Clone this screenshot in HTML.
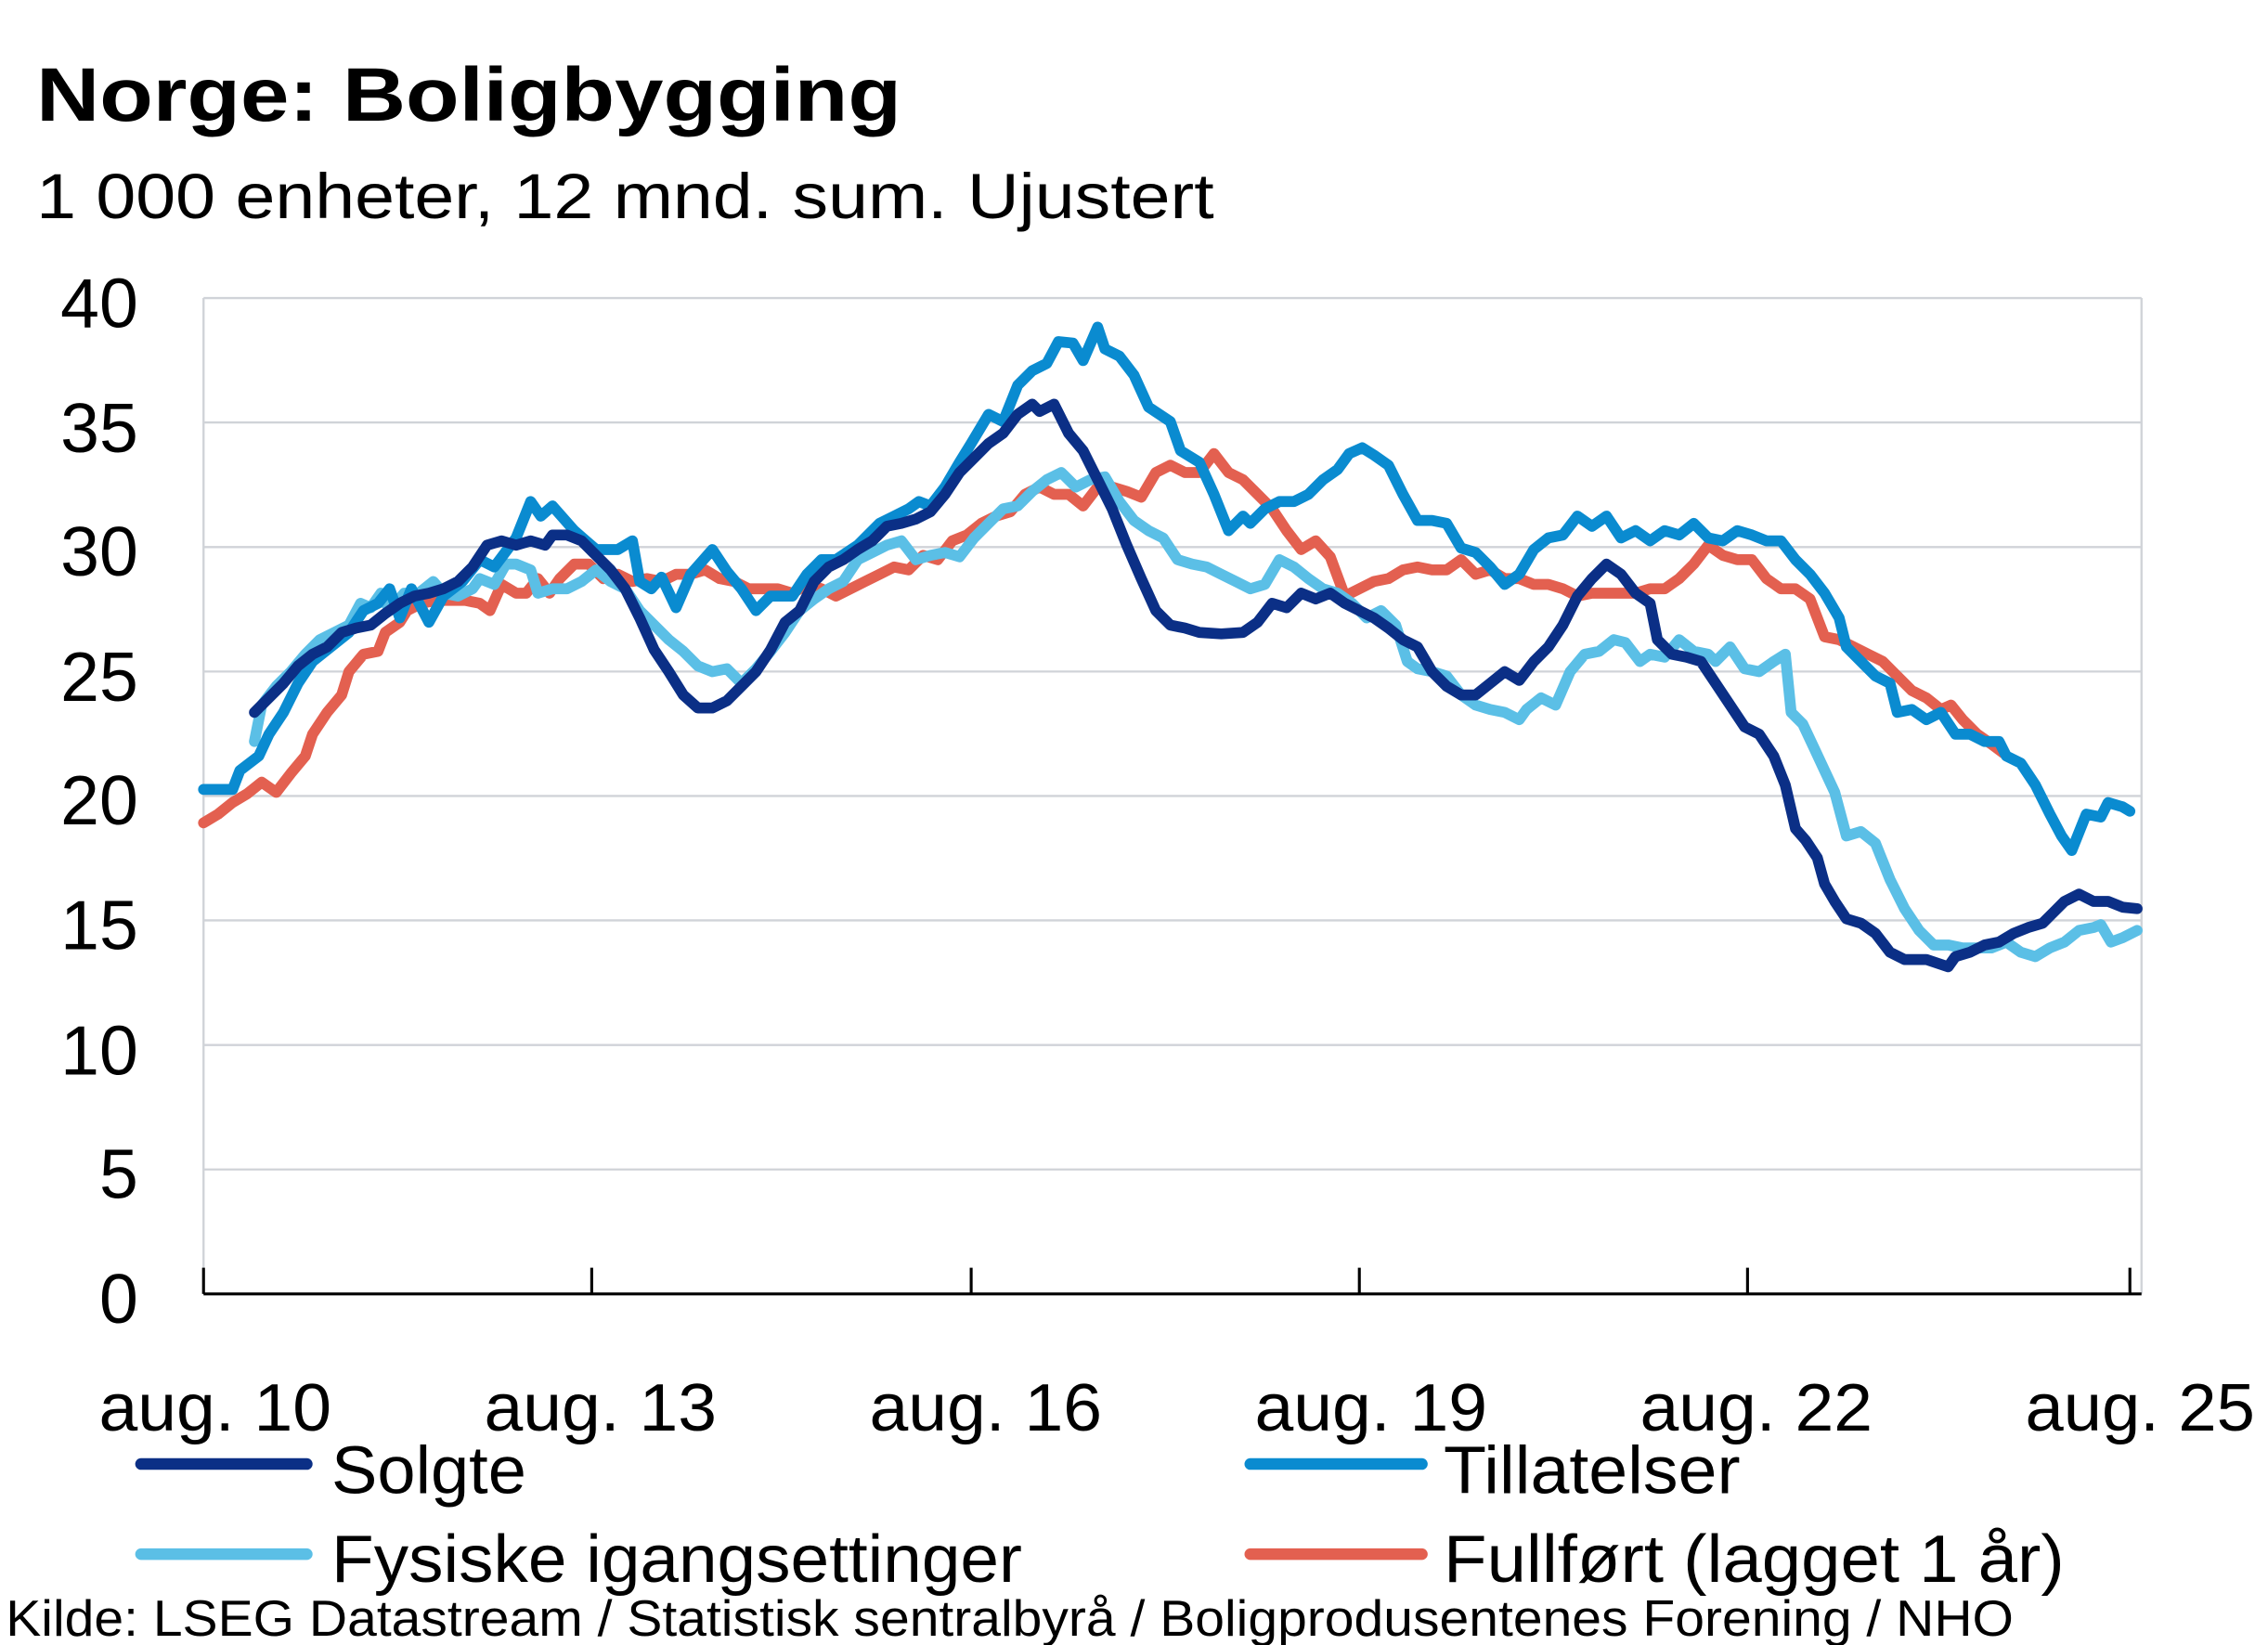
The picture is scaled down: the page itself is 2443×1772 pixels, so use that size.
<!DOCTYPE html>
<html><head><meta charset="utf-8"><style>html,body{margin:0;padding:0;background:#fff}svg{display:block}</style></head>
<body>
<svg width="2443" height="1772" viewBox="0 0 1560 1131.5" preserveAspectRatio="none" xmlns="http://www.w3.org/2000/svg" font-family="Liberation Sans, sans-serif">
<rect width="1560" height="1131.5" fill="#fff"/>
<text x="25" y="83" font-size="52" font-weight="bold" textLength="595" lengthAdjust="spacingAndGlyphs">Norge:  Boligbygging</text>
<text x="25" y="150" font-size="44" textLength="810" lengthAdjust="spacingAndGlyphs">1 000 enheter, 12 mnd. sum. Ujustert</text>
<g stroke="#d0d3d8" stroke-width="1.5">
<line x1="140" y1="205" x2="1473" y2="205"/><line x1="140" y1="290.6" x2="1473" y2="290.6"/><line x1="140" y1="376.3" x2="1473" y2="376.3"/><line x1="140" y1="461.9" x2="1473" y2="461.9"/><line x1="140" y1="547.5" x2="1473" y2="547.5"/><line x1="140" y1="633.1" x2="1473" y2="633.1"/><line x1="140" y1="718.8" x2="1473" y2="718.8"/><line x1="140" y1="804.4" x2="1473" y2="804.4"/>
<line x1="140" y1="205" x2="140" y2="890"/><line x1="1473" y1="205" x2="1473" y2="890"/>
</g>
<g stroke="#000" stroke-width="2"><line x1="140" y1="890" x2="1473" y2="890"/>
<line x1="140" y1="872" x2="140" y2="890"/><line x1="407" y1="872" x2="407" y2="890"/><line x1="668" y1="872" x2="668" y2="890"/><line x1="935" y1="872" x2="935" y2="890"/><line x1="1202" y1="872" x2="1202" y2="890"/><line x1="1465" y1="872" x2="1465" y2="890"/></g>
<g font-size="48" text-anchor="end">
<text x="95" y="225">40</text><text x="95" y="311">35</text><text x="95" y="396">30</text><text x="95" y="482">25</text><text x="95" y="567">20</text><text x="95" y="653">15</text><text x="95" y="739">10</text><text x="95" y="824">5</text><text x="95" y="910">0</text></g>
<g font-size="46">
<text x="68" y="984" textLength="160" lengthAdjust="spacingAndGlyphs">aug. 10</text>
<text x="333" y="984" textLength="160" lengthAdjust="spacingAndGlyphs">aug. 13</text>
<text x="598" y="984" textLength="160" lengthAdjust="spacingAndGlyphs">aug. 16</text>
<text x="863" y="984" textLength="160" lengthAdjust="spacingAndGlyphs">aug. 19</text>
<text x="1128" y="984" textLength="160" lengthAdjust="spacingAndGlyphs">aug. 22</text>
<text x="1393" y="984" textLength="158" lengthAdjust="spacingAndGlyphs">aug. 25</text>
</g>
<g fill="none" stroke-width="7.5" stroke-linejoin="round" stroke-linecap="round">
<polyline stroke="#e36050" points="140,566 150,560 160,552 170,546 180,538 190,545 200,532 210,520 215,505 225,490 235,478 240,462 250,450 260,448 265,435 275,428 280,420 290,415 300,413 310,413 320,413 330,415 337,420 345,402 355,408 362,408 370,398 378,408 385,398 395,388 405,388 415,398 425,395 435,400 445,398 455,400 465,395 475,395 485,392 495,398 505,400 515,405 525,405 535,405 545,408 555,402 565,405 575,410 585,405 595,400 605,395 615,390 625,392 635,382 645,385 655,372 665,368 675,360 685,355 695,352 705,340 715,335 725,340 735,340 745,348 755,335 765,335 775,338 785,342 795,325 805,320 815,325 825,325 835,312 845,325 855,330 865,340 875,350 885,365 895,378 905,372 915,383 925,410 935,405 945,400 955,398 965,392 975,390 985,392 995,392 1005,385 1015,395 1025,392 1035,398 1045,398 1055,402 1065,402 1075,405 1085,410 1095,408 1105,408 1115,408 1125,408 1135,405 1145,405 1155,398 1165,388 1175,375 1185,382 1195,385 1205,385 1215,398 1225,405 1235,405 1245,412 1255,438 1265,440 1275,445 1285,450 1295,455 1305,465 1315,475 1325,480 1335,488 1342,485 1350,495 1360,505 1370,512 1378,518"/>
<polyline stroke="#5bbfe6" points="175,510 180,485 190,472 200,462 210,450 220,440 230,435 240,430 248,415 255,418 262,408 268,420 278,408 288,408 298,400 305,408 315,410 325,405 330,398 340,402 348,388 355,388 365,392 370,408 380,405 390,405 400,400 410,392 420,400 430,405 440,420 450,430 460,440 470,448 480,458 490,462 500,460 510,470 520,460 530,448 540,435 550,420 560,412 570,405 580,400 590,385 600,380 610,375 620,372 630,385 640,382 650,380 660,383 670,370 680,360 690,350 700,348 710,338 720,330 730,325 740,335 750,330 760,328 770,345 780,358 790,365 800,370 810,385 820,388 830,390 840,395 850,400 860,405 870,402 880,385 890,390 900,398 910,405 920,408 930,415 940,425 950,420 960,430 968,455 975,460 985,462 995,465 1005,478 1015,485 1025,488 1035,490 1045,495 1050,488 1060,480 1070,485 1080,462 1090,450 1100,448 1110,440 1118,442 1128,455 1135,450 1145,452 1155,440 1165,448 1175,450 1180,455 1190,445 1200,460 1210,462 1220,455 1228,450 1232,490 1240,498 1248,515 1255,530 1262,545 1270,575 1280,572 1290,580 1300,605 1310,625 1320,640 1330,650 1340,650 1350,652 1360,652 1370,652 1380,648 1390,655 1400,658 1410,652 1420,648 1430,640 1440,638 1445,636 1452,648 1460,645 1470,640"/>
<polyline stroke="#0a8bd0" points="140,543 160,543 165,530 178,520 185,505 195,490 205,470 215,455 225,447 240,435 250,420 260,415 268,405 275,425 283,405 295,428 305,410 318,400 330,385 340,390 355,370 365,345 372,355 380,348 395,365 410,378 425,378 435,372 440,400 448,405 455,397 465,418 475,395 490,378 500,393 510,405 520,420 530,410 545,410 555,395 565,385 575,385 590,375 605,360 615,355 625,350 632,345 640,348 650,335 660,318 668,305 680,285 690,290 700,265 710,255 720,250 728,235 738,236 745,248 755,225 760,240 770,245 780,258 790,280 805,290 812,310 825,318 835,340 845,365 855,355 860,360 870,350 880,345 890,345 900,340 910,330 920,323 928,312 937,308 945,313 955,320 965,340 975,358 985,358 995,360 1005,377 1015,380 1025,390 1035,402 1045,395 1055,378 1065,370 1075,368 1085,355 1095,362 1105,355 1115,370 1125,365 1135,372 1145,365 1155,368 1165,360 1175,370 1185,372 1195,365 1205,368 1215,372 1225,372 1235,385 1245,395 1255,408 1265,425 1270,445 1280,455 1290,465 1300,470 1305,490 1315,488 1325,495 1335,490 1345,505 1355,505 1365,510 1375,510 1380,520 1390,525 1400,540 1410,560 1418,575 1425,585 1435,560 1445,562 1450,552 1460,555 1465,558"/>
<polyline stroke="#0b2f86" points="175,490 185,480 195,470 205,458 215,450 225,445 235,435 245,432 255,430 265,422 275,415 285,410 295,408 305,405 315,400 325,390 335,375 345,372 355,375 365,372 375,375 380,368 390,368 400,372 410,382 420,392 430,405 440,425 450,447 460,462 470,478 480,487 490,487 500,482 510,472 520,462 530,447 540,428 550,420 560,400 570,390 580,385 590,378 600,372 610,362 620,360 630,357 640,352 650,340 660,325 670,315 680,305 690,298 700,285 710,278 715,283 725,278 735,298 745,310 755,330 765,350 775,375 785,398 795,420 805,430 815,432 825,435 840,436 855,435 865,428 875,415 885,418 895,408 905,412 915,408 925,415 935,420 945,425 955,432 965,440 975,445 985,462 995,472 1005,478 1015,478 1025,470 1035,462 1045,468 1055,455 1065,445 1075,430 1085,410 1095,398 1105,388 1115,395 1125,408 1135,415 1140,440 1150,450 1160,452 1170,455 1180,470 1190,485 1200,500 1210,505 1220,520 1228,540 1235,570 1242,578 1250,590 1255,608 1262,620 1270,632 1280,635 1290,642 1300,655 1310,660 1325,660 1340,665 1345,658 1355,655 1365,650 1375,648 1385,642 1395,638 1405,635 1412,628 1420,620 1430,615 1440,620 1450,620 1460,624 1470,625"/>
</g>
<g stroke-width="8" stroke-linecap="round">
<line x1="97" y1="1007" x2="211" y2="1007" stroke="#0b2f86"/>
<line x1="860" y1="1007" x2="978" y2="1007" stroke="#0a8bd0"/>
<line x1="97" y1="1069" x2="211" y2="1069" stroke="#5bbfe6"/>
<line x1="860" y1="1069" x2="978" y2="1069" stroke="#e36050"/>
</g>
<g font-size="46">
<text x="228" y="1027" textLength="134" lengthAdjust="spacingAndGlyphs">Solgte</text>
<text x="993" y="1027" textLength="204" lengthAdjust="spacingAndGlyphs">Tillatelser</text>
<text x="228" y="1088" textLength="475" lengthAdjust="spacingAndGlyphs">Fysiske igangsettinger</text>
<text x="993" y="1088" textLength="427" lengthAdjust="spacingAndGlyphs">Fullført (lagget 1 år)</text>
</g>
<text x="4" y="1125" font-size="35" textLength="1381" lengthAdjust="spacingAndGlyphs">Kilde: LSEG Datastream / Statistisk sentralbyrå / Boligprodusentenes Forening / NHO</text>
</svg>
</body></html>
